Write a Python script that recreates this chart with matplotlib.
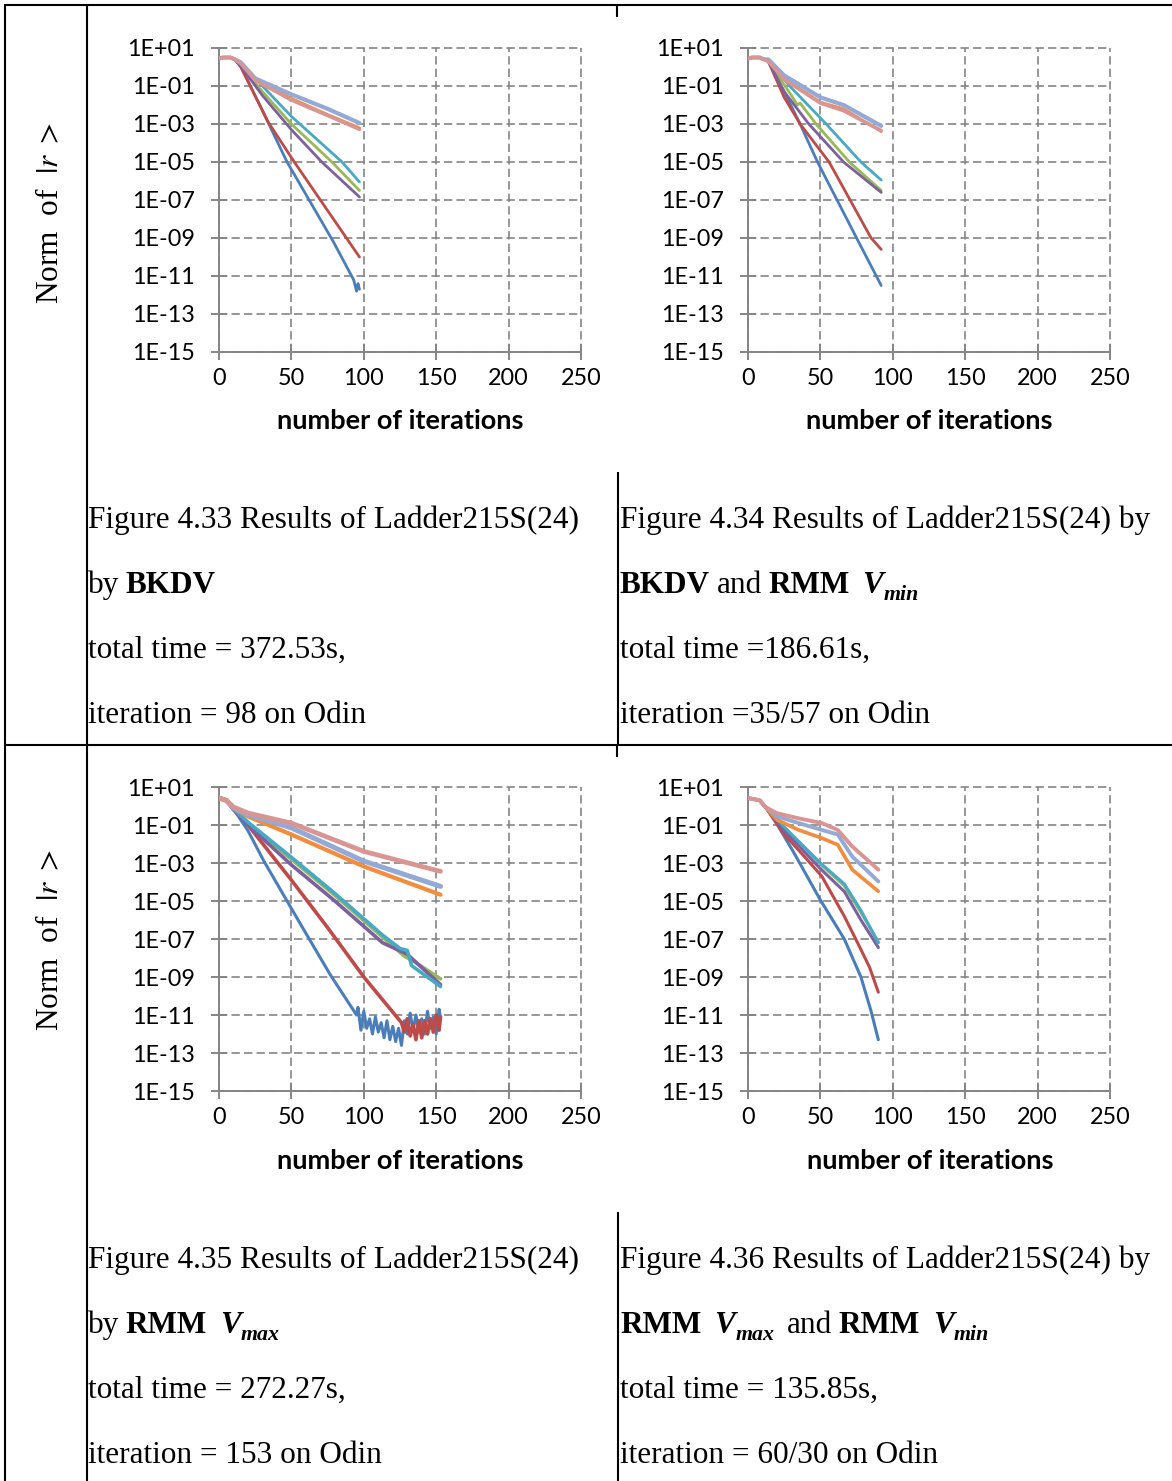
import matplotlib
matplotlib.use("Agg")
import matplotlib.pyplot as plt
import numpy as np
from matplotlib.lines import Line2D
from matplotlib.ticker import NullLocator

# ---------------------------------------------------------------------------
# Residual norms (log10 of the norm of |r>) against iteration number.
# Each series is a list of (iteration, log10 norm) points.
# ---------------------------------------------------------------------------

# Figure 4.33 -- BKDV, 98 iterations
bkdv_s1 = [(0, 0.45), (3, 0.5), (8, 0.5), (11, 0.4), (15, 0.05), (30, -2.3), (47, -5.0),
           (79, -9.2), (93, -11.2), (95, -11.8), (96, -11.4), (97, -11.7)]
bkdv_s2 = [(0, 0.45), (3, 0.5), (8, 0.5), (11, 0.4), (15, 0.0), (34, -2.9), (52, -5.0),
           (88, -9.0), (97, -10.0)]
bkdv_s3 = [(0, 0.45), (3, 0.5), (8, 0.5), (11, 0.4), (15, 0.1), (30, -1.3), (50, -3.0),
           (78, -5.0), (97, -6.5)]
bkdv_s4 = [(0, 0.45), (3, 0.5), (8, 0.5), (11, 0.4), (15, 0.05), (30, -1.5), (50, -3.3),
           (71, -5.0), (97, -6.84)]
bkdv_s5 = [(0, 0.45), (3, 0.5), (8, 0.5), (11, 0.4), (15, 0.15), (30, -1.0), (50, -2.6),
           (85, -5.0), (97, -6.05)]
bkdv_s6 = [(0, 0.45), (3, 0.5), (8, 0.5), (11, 0.4), (15, 0.2), (25, -0.6), (50, -1.65),
           (75, -2.5), (97, -3.2)]
bkdv_s7 = [(0, 0.45), (3, 0.5), (8, 0.5), (11, 0.4), (15, 0.25), (25, -0.6), (50, -1.44),
           (75, -2.2), (97, -2.95)]
bkdv_s8 = [(0, 0.45), (3, 0.5), (8, 0.5), (11, 0.4), (15, 0.2), (25, -0.7), (50, -1.74),
           (75, -2.55), (97, -3.28)]

# Figure 4.34 -- BKDV and RMM V_min, 35/57 iterations
mix_s1 = [(0, 0.45), (3, 0.5), (8, 0.5), (11, 0.4), (14, 0.3), (25, -1.3), (36, -3.0),
          (48, -5.0), (75, -9.0), (92, -11.5)]
mix_s2 = [(0, 0.45), (3, 0.5), (8, 0.5), (11, 0.4), (14, 0.3), (25, -1.6), (36, -3.0),
          (56, -5.0), (85, -9.0), (92, -9.6)]
mix_s3 = [(0, 0.45), (3, 0.5), (8, 0.5), (11, 0.4), (14, 0.3), (30, -1.5), (34, -2.0),
          (36, -1.9), (47, -3.0), (70, -5.0), (92, -6.5)]
mix_s4 = [(0, 0.45), (3, 0.5), (8, 0.5), (11, 0.4), (14, 0.3), (25, -1.3), (42, -3.0),
          (66, -5.0), (92, -6.6)]
mix_s5 = [(0, 0.45), (3, 0.5), (8, 0.5), (11, 0.4), (14, 0.3), (30, -1.1), (54, -3.0),
          (78, -5.0), (92, -5.95)]
mix_s6 = [(0, 0.45), (3, 0.5), (8, 0.5), (11, 0.4), (14, 0.3), (25, -0.6), (50, -1.85),
          (66, -2.2), (92, -3.4)]
mix_s7 = [(0, 0.45), (3, 0.5), (8, 0.5), (11, 0.4), (14, 0.4), (25, -0.45), (35, -0.9),
          (50, -1.6), (66, -2.0), (92, -3.1)]
mix_s8 = [(0, 0.45), (3, 0.5), (8, 0.5), (11, 0.4), (14, 0.3), (25, -0.65), (50, -1.9),
          (66, -2.3), (92, -3.35)]

# Figure 4.35 -- RMM V_max, 153 iterations
vmax_s1 = [(0, 0.42), (5, 0.3), (10, -0.15), (20, -1.3), (31, -2.9), (47, -5.0), (60, -6.7),
           (77, -8.9), (95, -11.0), (96, -10.6), (98, -11.8), (100, -10.8), (102, -11.7),
           (104, -11.2), (106, -12.0), (108, -11.1), (110, -11.9), (112, -11.4), (114, -12.2),
           (116, -11.3), (118, -12.3), (120, -11.6), (122, -12.4), (124, -11.7), (126, -12.6),
           (128, -11.3), (130, -12.0), (132, -10.9), (134, -11.8), (136, -11.0), (138, -11.9),
           (140, -11.2), (142, -12.0), (144, -10.8), (146, -11.7), (148, -11.1), (150, -12.0),
           (152, -10.7), (153, -11.2)]
vmax_s2 = [(0, 0.42), (5, 0.3), (10, -0.1), (20, -1.0), (50, -3.9), (75, -6.4), (100, -9.0),
           (126, -11.4), (128, -11.9), (130, -11.2), (132, -12.1), (134, -11.5), (136, -12.3),
           (138, -11.3), (140, -12.2), (142, -11.3), (144, -12.0), (146, -11.2), (148, -11.9),
           (150, -11.0), (152, -11.8), (153, -11.1)]
vmax_s3 = [(0, 0.42), (5, 0.3), (10, -0.15), (20, -0.9), (50, -2.8), (80, -4.7), (113, -6.9),
           (128, -7.9), (135, -8.2), (153, -9.1)]
vmax_s4 = [(0, 0.42), (5, 0.3), (10, -0.2), (20, -1.0), (50, -3.1), (80, -5.0), (113, -7.2),
           (130, -7.8), (140, -8.5), (153, -9.4)]
vmax_s5 = [(0, 0.42), (5, 0.3), (10, -0.15), (20, -0.85), (50, -2.7), (80, -4.6), (113, -6.8),
           (125, -7.5), (130, -7.6), (133, -8.4), (153, -9.5)]
vmax_s6 = [(0, 0.42), (5, 0.3), (10, -0.1), (20, -0.55), (50, -1.5), (100, -3.18), (153, -4.67)]
vmax_s7 = [(0, 0.42), (5, 0.3), (10, -0.1), (20, -0.45), (50, -1.15), (100, -2.9), (153, -4.23)]
vmax_s8 = [(0, 0.42), (5, 0.3), (10, -0.05), (20, -0.37), (50, -0.9), (100, -2.39), (153, -3.44)]

# Figure 4.36 -- RMM V_max and RMM V_min, 60/30 iterations
both_s1 = [(0, 0.42), (8, 0.3), (12, -0.05), (17, -0.56), (32, -2.5), (50, -4.95), (66.5, -7.0),
           (78, -9.0), (85, -10.8), (90, -12.3)]
both_s2 = [(0, 0.42), (8, 0.3), (12, -0.05), (24, -1.4), (40, -2.75), (51, -3.7), (66.5, -5.8),
           (77, -7.4), (84, -8.5), (90, -9.8)]
both_s3 = [(0, 0.42), (8, 0.3), (12, -0.05), (25, -1.15), (50, -3.05), (66.5, -4.2), (78, -5.6),
           (90, -7.15)]
both_s4 = [(0, 0.42), (8, 0.3), (12, -0.05), (25, -1.3), (50, -3.3), (66.5, -4.5), (78, -6.0),
           (90, -7.45)]
both_s5 = [(0, 0.42), (8, 0.3), (12, -0.05), (25, -1.1), (50, -3.0), (66.5, -4.1), (78, -5.5),
           (90, -7.2)]
both_s6 = [(0, 0.42), (8, 0.3), (12, -0.05), (20, -0.73), (35, -1.26), (51, -1.69), (62, -2.04),
           (72, -3.35), (90, -4.49)]
both_s7 = [(0, 0.42), (8, 0.3), (12, -0.05), (20, -0.55), (35, -0.9), (51, -1.26), (62, -1.5),
           (72, -2.66), (90, -3.97)]
both_s8 = [(0, 0.42), (8, 0.3), (12, -0.05), (20, -0.38), (35, -0.65), (51, -0.9), (62, -1.26),
           (72, -2.13), (90, -3.35)]

x_ticks = [0, 50, 100, 150, 200, 250]
y_ticks = [1e1, 1e-1, 1e-3, 1e-5, 1e-7, 1e-9, 1e-11, 1e-13, 1e-15]
y_tick_labels = ["1E+01", "1E-01", "1E-03", "1E-05", "1E-07", "1E-09", "1E-11", "1E-13", "1E-15"]

series_colors = ["#4A7EBB", "#BE4B48", "#98B954", "#7D60A0", "#46AAC5", "#F38C3C",
                 "#93AAD6", "#D99592"]
draw_order = [0, 1, 2, 3, 4, 5, 6, 7]

# ---------------------------------------------------------------------------
W, H = 1172, 1481
fig = plt.figure(figsize=(W / 100, H / 100), dpi=100)
fig.patch.set_facecolor("white")
plt.rcParams["mathtext.fontset"] = "stix"

SANS = ["Lato", "DejaVu Sans"]
SERIF = ["Liberation Serif", "DejaVu Serif"]
GRAY = "#858585"


def fx(px):
    return px / W


def fy(py):
    return 1 - py / H


def rule(x0, y0, x1, y1):
    fig.add_artist(Line2D([fx(x0), fx(x1)], [fy(y0), fy(y1)], color="black", lw=1.5,
                          solid_capstyle="butt"))


# table frame
rule(5, 5, W, 5)
rule(5, 745, W, 745)
rule(5, 4, 5, H)
rule(87, 4, 87, H)
rule(617, 5, 617, 17)
rule(617, 745, 617, 757)
rule(618, 472, 618, 745)
rule(618, 1212, 618, H)


def panel(left, top, series, n_lw):
    right = left + 362
    bottom = top + 304
    ax = fig.add_axes([fx(left), fy(bottom), (right - left) / W, (bottom - top) / H])
    ax.set_yscale("log")
    ax.set_xlim(0, 250)
    ax.set_ylim(1e-15, 1e1)
    ax.set_xticks(x_ticks)
    ax.set_xticklabels([str(v) for v in x_ticks])
    ax.set_yticks(y_ticks)
    ax.set_yticklabels(y_tick_labels)
    ax.yaxis.set_minor_locator(NullLocator())
    ax.xaxis.set_minor_locator(NullLocator())
    for sp in ("top", "right"):
        ax.spines[sp].set_visible(False)
    for sp in ("left", "bottom"):
        ax.spines[sp].set_color(GRAY)
        ax.spines[sp].set_linewidth(1.4)
    ax.grid(True, color=GRAY, linestyle=(0, (5, 2.5)), lw=1.2)
    for gl in ax.get_xgridlines() + ax.get_ygridlines():
        gl.set_clip_on(False)
    ax.set_axisbelow(True)
    ax.tick_params(axis="both", direction="inout", length=11, width=1.4, color=GRAY,
                   labelsize=16.8, labelcolor="black")
    ax.tick_params(axis="y", pad=12)
    ax.tick_params(axis="x", pad=6)
    for lab in ax.get_xticklabels() + ax.get_yticklabels():
        lab.set_family(SANS)
    for k in draw_order:
        pts = np.array(series[k], dtype=float)
        ax.plot(pts[:, 0], 10 ** pts[:, 1], color=series_colors[k], lw=n_lw[k],
                solid_joinstyle="round", solid_capstyle="round", zorder=3 + k)
    ax.set_facecolor("none")
    return ax


lw_top = [2.0, 2.0, 2.0, 2.0, 2.0, 2.0, 3.0, 2.6]
lw_bl = [2.2, 2.6, 2.6, 2.6, 2.6, 3.0, 3.6, 3.4]
lw_br = [2.2, 2.2, 2.2, 2.2, 2.2, 2.6, 2.8, 2.8]

panel(219, 48, [bkdv_s1, bkdv_s2, bkdv_s3, bkdv_s4, bkdv_s5, bkdv_s6, bkdv_s7, bkdv_s8], lw_top)
panel(748, 48, [mix_s1, mix_s2, mix_s3, mix_s4, mix_s5, mix_s6, mix_s7, mix_s8], lw_top)
panel(219, 787, [vmax_s1, vmax_s2, vmax_s3, vmax_s4, vmax_s5, vmax_s6, vmax_s7, vmax_s8], lw_bl)
panel(748, 787, [both_s1, both_s2, both_s3, both_s4, both_s5, both_s6, both_s7, both_s8], lw_br)

# axis titles
for cx, cy in [(400, 421), (929, 421), (400, 1161), (930, 1161)]:
    fig.text(fx(cx), fy(cy), "number of iterations", ha="center", va="center",
             family=SANS, weight="bold", fontsize=19.5)

for cy in [213, 940]:
    fig.text(fx(51), fy(cy), r"Norm  of  $|r\ >$", rotation=90, ha="center", va="center",
             family=SERIF, fontsize=22.5)

# captions -------------------------------------------------------------------
renderer = fig.canvas.get_renderer()
CAP = 22.5


def runs(x, y, parts):
    """Lay out a line of mixed-style text pieces left to right (pixel coords)."""
    for part in parts:
        if isinstance(part, (int, float)):
            x += part
            continue
        s, style = part
        kw = dict(family=SERIF, fontsize=CAP, va="baseline", ha="left")
        if style == "b":
            kw["weight"] = "bold"
        if style in ("v", "sub"):
            kw["weight"] = "bold"
            kw["style"] = "italic"
        yy = y
        if style == "sub":
            kw["fontsize"] = CAP * 0.7
            yy = y + 7
        t = fig.text(fx(x), fy(yy), s, **kw)
        x += t.get_window_extent(renderer=renderer).width


SP = 6.5

runs(88, 528, [("Figure 4.33 Results of Ladder215S(24)", "r")])
runs(88, 593, [("by", "r"), SP, ("BKDV", "b")])
runs(88, 658, [("total time = 372.53s,", "r")])
runs(88, 723, [("iteration = 98 on Odin", "r")])

runs(620, 528, [("Figure 4.34 Results of Ladder215S(24) by", "r")])
runs(620, 593, [("BKDV", "b"), SP, ("and", "r"), SP, ("RMM", "b"), 2 * SP, ("V", "v"),
                ("min", "sub")])
runs(620, 658, [("total time =186.61s,", "r")])
runs(620, 723, [("iteration =35/57 on Odin", "r")])

runs(88, 1268, [("Figure 4.35 Results of Ladder215S(24)", "r")])
runs(88, 1333, [("by", "r"), SP, ("RMM", "b"), 2 * SP, ("V", "v"), ("max", "sub")])
runs(88, 1398, [("total time = 272.27s,", "r")])
runs(88, 1463, [("iteration = 153 on Odin", "r")])

runs(620, 1268, [("Figure 4.36 Results of Ladder215S(24) by", "r")])
runs(620, 1333, [("RMM", "b"), 2 * SP, ("V", "v"), ("max", "sub"), 2 * SP, ("and", "r"), SP,
                 ("RMM", "b"), 2 * SP, ("V", "v"), ("min", "sub")])
runs(620, 1398, [("total time = 135.85s,", "r")])
runs(620, 1463, [("iteration = 60/30 on Odin", "r")])

fig.savefig("out.png", dpi=100, facecolor="white")
